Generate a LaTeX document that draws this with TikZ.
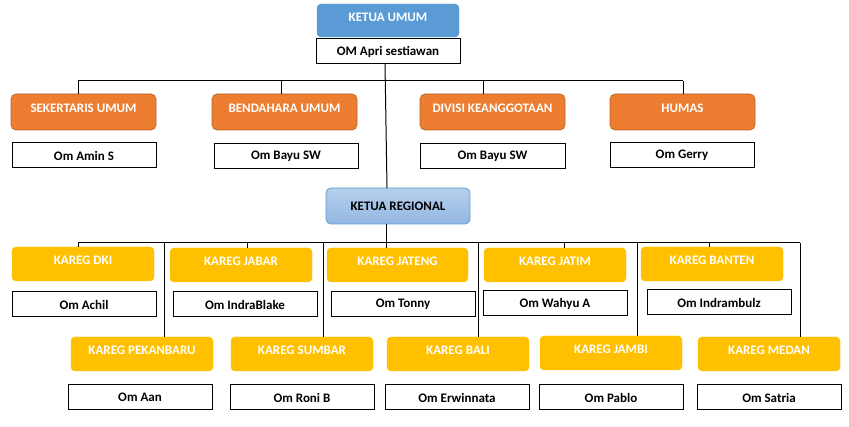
\documentclass[tikz,border=0pt]{standalone}
\usepackage{fontspec}
\setmainfont{Carlito}
\definecolor{blueA}{HTML}{5B9BD5}
\definecolor{regTop}{HTML}{B6CFEC}
\definecolor{regBot}{HTML}{93B7E2}
\definecolor{orangeF}{HTML}{ED7D31}
\definecolor{orangeD}{HTML}{B8602A}
\definecolor{yellowF}{HTML}{FFC000}
\newcommand\mybox[7]{%
  \node[#2, minimum width={(#5-#3)*1pt}, minimum height={(#6-#4)*1pt}]
    (#1) at ({(#3+#5)/2},{(#4+#6)/2}) {#7};}
\begin{document}
\begin{tikzpicture}[x=1pt,y=-1pt,
  every node/.style={inner sep=0pt, outer sep=0pt, font=\fontsize{13}{15}\selectfont\bfseries},
  raised/.style={text height=9pt, text depth=7pt},
  ketua/.style={rounded corners=4pt, fill=blueA, draw=blueA, text=white, raised},
  regional/.style={rounded corners=5pt, top color=regTop, bottom color=regBot, draw=blueA, line width=0.8pt, text=black},
  divisi/.style={rounded corners=5pt, fill=orangeF, draw=orangeD, line width=0.6pt, text=white, raised},
  kareg/.style={rounded corners=4pt, fill=yellowF, draw=yellowF, text=white, raised},
  person/.style={draw=black, line width=1pt, fill=white, text=black},
  conn/.style={draw=black, line width=1pt}]
\useasboundingbox (0,0) rectangle (849,427);

% top
\mybox{ku}{ketua}{317}{4}{459}{37}{KETUA UMUM}
\mybox{apri}{person}{316}{39}{460}{64}{OM Apri sestiawan}

% divisions
\mybox{sek}{divisi}{11}{94}{156}{130}{SEKERTARIS UMUM}
\mybox{ben}{divisi}{212}{94}{357}{130}{BENDAHARA UMUM}
\mybox{div}{divisi}{420}{94}{565}{130}{DIVISI KEANGGOTAAN}
\mybox{hum}{divisi}{610}{94}{755}{130}{HUMAS}
\mybox{amin}{person}{12}{143}{156}{168}{Om Amin S}
\mybox{bayu}{person}{214}{144}{358}{169}{Om Bayu SW}
\mybox{bayub}{person}{420}{144}{565}{169}{Om Bayu SW}
\mybox{gerry}{person}{610}{143}{754}{168}{Om Gerry}

% regional
\mybox{reg}{regional}{326}{188}{470}{224}{KETUA REGIONAL}

% kareg top row
\mybox{dki}{kareg}{12}{247}{154}{281}{KAREG DKI}
\mybox{jabar}{kareg}{170}{248}{312}{282}{KAREG JABAR}
\mybox{jateng}{kareg}{327}{248}{468}{282}{KAREG JATENG}
\mybox{jatim}{kareg}{484}{248}{626}{282}{KAREG JATIM}
\mybox{banten}{kareg}{641}{247}{783}{281}{KAREG BANTEN}
\mybox{achil}{person}{12}{292}{156}{317}{Om Achil}
\mybox{indra}{person}{173}{292}{317}{317}{Om IndraBlake}
\mybox{tonny}{person}{331}{292}{475}{317}{Om Tonny}
\mybox{wahyu}{person}{483}{291}{627}{316}{Om Wahyu A}
\mybox{mbulz}{person}{647}{290}{791}{315}{Om Indrambulz}

% kareg bottom row
\mybox{pek}{kareg}{71}{337}{213}{371}{KAREG PEKANBARU}
\mybox{sumbar}{kareg}{231}{337}{373}{371}{KAREG SUMBAR}
\mybox{bali}{kareg}{387}{337}{529}{371}{KAREG BALI}
\mybox{jambi}{kareg}{540}{336}{682}{370}{KAREG JAMBI}
\mybox{medan}{kareg}{698}{337}{840}{371}{KAREG MEDAN}
\mybox{aan}{person}{68}{385}{212}{410}{Om Aan}
\mybox{roni}{person}{230}{385}{374}{410}{Om Roni B}
\mybox{erwin}{person}{385}{385}{529}{410}{Om Erwinnata}
\mybox{pablo}{person}{539}{385}{683}{410}{Om Pablo}
\mybox{satria}{person}{697}{385}{841}{410}{Om Satria}

% top bus
\coordinate (t1) at (78,81);
\coordinate (t2) at (281,81);
\coordinate (t3) at (483,81);
\coordinate (t4) at (683,81);
\draw[conn] (t1) -- (t4);
\draw[conn] (t1) -- (t1 |- sek.north);
\draw[conn] (t2) -- (t2 |- ben.north);
\draw[conn] (t3) -- (t3 |- div.north);
\draw[conn] (t4) -- (t4 |- hum.north);

% trunk to regional
\draw[conn] ([xshift=-3pt]apri.south) -- ([xshift=-11pt]reg.north);

% lower bus
\coordinate (r0) at (386,243);
\coordinate (l1) at (78,243);
\coordinate (l2) at (164,243);
\coordinate (l3) at (247,243);
\coordinate (l4) at (323,243);
\coordinate (l5) at (478,243);
\coordinate (l6) at (564,243);
\coordinate (l7) at (637,243);
\coordinate (l8) at (709,243);
\coordinate (l9) at (800,243);
\draw[conn] (r0 |- reg.south) -- (r0);
\draw[conn] (l1) -- (l9);
\draw[conn] (l1) -- (l1 |- dki.north);
\draw[conn] (l3) -- (l3 |- jabar.north);
\draw[conn] (r0) -- (r0 |- jateng.north);
\draw[conn] (l6) -- (l6 |- jatim.north);
\draw[conn] (l8) -- (l8 |- banten.north);
\draw[conn] (l2) -- (l2 |- pek.north);
\draw[conn] (l4) -- (l4 |- sumbar.north);
\draw[conn] (l5) -- (l5 |- bali.north);
\draw[conn] (l7) -- (l7 |- jambi.north);
\draw[conn] (l9) -- (l9 |- medan.north);
\end{tikzpicture}
\end{document}
